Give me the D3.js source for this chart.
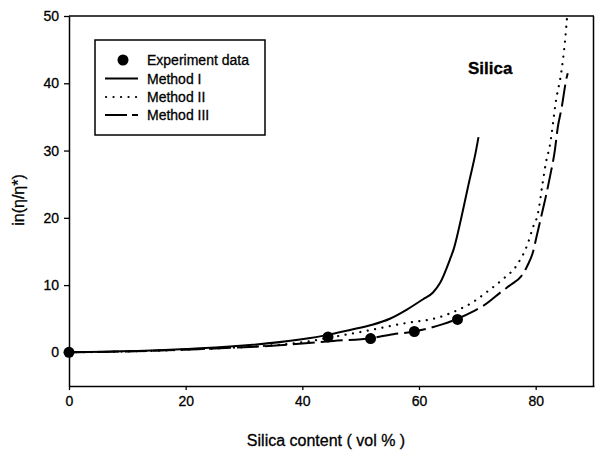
<!DOCTYPE html>
<html><head><meta charset="utf-8">
<script src="https://cdn.jsdelivr.net/npm/d3@7"></script>
<style>body{margin:0;background:#fff}svg{display:block}text{font-family:"Liberation Sans",Arial,sans-serif;fill:#000;stroke:#000;stroke-width:0.3}</style>
</head><body><svg id="c" width="595" height="450"></svg>
<script>
const xTicks=[0,20,40,60,80];
const yTicks=[0,10,20,30,40,50];
const expX=[0,44.4,51.7,59.2,66.6];
const expY=[0,2.3,2.05,3.1,4.9];
const m1X=[0,20,39.6,44.4,48,52,55,58,60.7,62.4,63.6,65.3,66,67.3,68.5,69.8,70.2];
const m1Y=[0,0.5,1.9,2.6,3.3,4.1,5.0,6.4,7.9,8.9,10.3,13.8,15.5,20.2,25,30.1,32];
const m2X=[0,20,40,45.3,51,56.7,64.1,66.4,69.3,71.8,74.4,76.8,78.7,79.5,80.4,81.2,81.8,82.4,83.5,84.4,85,85.4];
const m2Y=[0,0.4,1.5,2.3,3.2,4.2,5.4,6.2,7.5,9.1,10.9,13.0,16.3,18.5,20.7,25.2,28.4,30.6,37.5,41.7,46,50];
const m3X=[0,20,40,45.3,51.7,55.6,59.2,64.1,66.6,69.3,71,74.4,75.8,77.5,78.7,79.5,80.1,81.3,81.7,82.4,83.3,83.8,84.4,85.3,85.5];
const m3Y=[0,0.4,1.3,1.7,2.1,2.7,3.1,4.2,5.0,6.1,6.9,9.2,10.1,11.3,13.1,14.8,17.0,21.5,23,25.9,30.1,33.5,36.1,40.8,41.5];
const legendLabels=["Experiment data","Method I","Method II","Method III"];

const svg=d3.select("#c");
const x=d3.scaleLinear().domain([0,90]).range([69,594]);
const y=d3.scaleLinear().domain([-5,50]).range([386,16]);

svg.append("defs").append("clipPath").attr("id","clip").append("rect")
  .attr("x",69).attr("y",16).attr("width",525).attr("height",370);

svg.append("line").attr("x1",69).attr("x2",594).attr("y1",16).attr("y2",16).attr("stroke","#000").attr("stroke-width",1.5);
svg.append("line").attr("x1",593.5).attr("x2",593.5).attr("y1",16).attr("y2",386).attr("stroke","#000").attr("stroke-width",1.5);

const xa=svg.append("g").attr("transform","translate(0,386)")
  .call(d3.axisBottom(x).tickValues(xTicks).tickSize(4).tickPadding(6).tickSizeOuter(0));
const ya=svg.append("g").attr("transform","translate(69,0)")
  .call(d3.axisLeft(y).tickValues(yTicks).tickSize(5).tickPadding(5).tickSizeOuter(0));
[xa,ya].forEach(a=>{a.select(".domain").attr("stroke-width",1.5);a.selectAll(".tick line").attr("stroke-width",1.3);
  a.selectAll("text").attr("font-size",14).attr("font-family","Liberation Sans, Arial, sans-serif").attr("stroke","#000").attr("stroke-width",0.4);});

const line=d3.line().x(d=>x(d[0])).y(d=>y(d[1])).curve(d3.curveMonotoneX);
const g=svg.append("g").attr("clip-path","url(#clip)");
g.append("path").datum(m1X.map((v,i)=>[v,m1Y[i]])).attr("d",line).attr("fill","none").attr("stroke","#000").attr("stroke-width",2);
g.append("path").datum(m2X.map((v,i)=>[v,m2Y[i]])).attr("d",line).attr("fill","none").attr("stroke","#000").attr("stroke-width",2.2).attr("stroke-dasharray","0.1,7.4").attr("stroke-linecap","round");
g.append("path").datum(m3X.map((v,i)=>[v,m3Y[i]])).attr("d",line).attr("fill","none").attr("stroke","#000").attr("stroke-width",2).attr("stroke-dasharray","22,6");
svg.append("g").selectAll("circle").data(expX.map((v,i)=>[v,expY[i]])).join("circle")
  .attr("cx",d=>x(d[0])).attr("cy",d=>y(d[1])).attr("r",5.5).attr("fill","#000");

const lg=svg.append("g");
lg.append("rect").attr("x",95).attr("y",40).attr("width",170).attr("height",95).attr("fill","#fff").attr("stroke","#000").attr("stroke-width",1.5);
const ly=[60,78.5,97,115];
lg.append("circle").attr("cx",123).attr("cy",ly[0]).attr("r",5.5).attr("fill","#000");
lg.append("line").attr("x1",105).attr("x2",138).attr("y1",ly[1]).attr("y2",ly[1]).attr("stroke","#000").attr("stroke-width",2);
lg.append("line").attr("x1",106).attr("x2",138).attr("y1",ly[2]).attr("y2",ly[2]).attr("stroke","#000").attr("stroke-width",2.2).attr("stroke-dasharray","0.1,7.4").attr("stroke-linecap","round");
lg.append("line").attr("x1",105).attr("x2",138).attr("y1",ly[3]).attr("y2",ly[3]).attr("stroke","#000").attr("stroke-width",2).attr("stroke-dasharray","22,5");
legendLabels.forEach((t,i)=>lg.append("text").attr("x",147).attr("y",ly[i]+5).attr("font-size",14).text(t));

svg.append("text").attr("x",468).attr("y",74).attr("font-size",17).attr("font-weight","bold").text("Silica");
svg.append("text").attr("x",326).attr("y",446).attr("text-anchor","middle").attr("font-size",16).text("Silica content ( vol % )");
svg.append("text").attr("transform","translate(24,200) rotate(-90)").attr("text-anchor","middle").attr("font-size",16).text("in(η/η*)");
</script></body></html>
